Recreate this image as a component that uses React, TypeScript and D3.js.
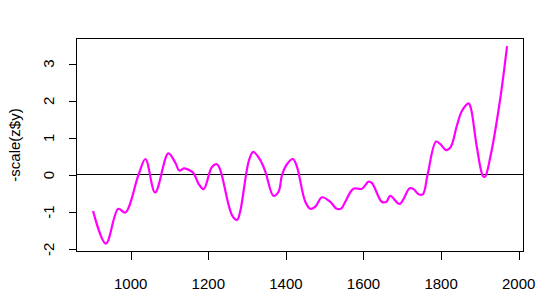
import React from "react";
import * as d3 from "d3";

const years = [903, 936, 968, 986, 1020, 1038, 1063, 1097, 1115, 1125, 1138, 1153, 1162, 1175, 1188, 1209, 1222, 1231, 1261, 1274, 1282, 1305, 1316, 1334, 1347, 1368, 1381, 1390, 1404, 1418, 1428, 1450, 1463, 1476, 1493, 1514, 1531, 1543, 1553, 1574, 1596, 1613, 1622, 1647, 1659, 1669, 1693, 1719, 1729, 1742, 1753, 1765, 1787, 1798, 1813, 1825, 1841, 1854, 1871, 1877, 1892, 1908, 1913, 1927, 1952, 1970];
const values = [-0.97, -1.85, -0.91, -1.01, 0.0, 0.43, -0.47, 0.58, 0.33, 0.12, 0.18, 0.12, 0.05, -0.24, -0.38, 0.21, 0.29, 0.13, -1.08, -1.21, -0.99, 0.40, 0.62, 0.40, 0.09, -0.56, -0.45, 0.0, 0.31, 0.43, 0.24, -0.72, -0.91, -0.85, -0.60, -0.72, -0.91, -0.90, -0.72, -0.37, -0.37, -0.18, -0.22, -0.72, -0.72, -0.56, -0.78, -0.36, -0.38, -0.52, -0.52, 0.0, 0.90, 0.83, 0.67, 0.76, 1.34, 1.73, 1.93, 1.79, 0.76, -0.03, -0.05, 0.49, 2.02, 3.47];
const xTicks = [1000, 1200, 1400, 1600, 1800, 2000];
const yTicks = [-2, -1, 0, 1, 2, 3];
const yLabel = "-scale(z$y)";

export default function App() {
  const W = 542, H = 308;
  const left = 76.5, right = 523.5, top = 38.5, bottom = 251.5;
  const x = d3.scaleLinear().domain([860.3, 2012.4]).range([left, right]);
  const y = d3.scaleLinear().domain([-2.06, 3.675]).range([bottom, top]);
  const pts: [number, number][] = years.map((yr, i) => [yr, values[i]]);
  const line = d3
    .line<[number, number]>()
    .x((d) => x(d[0]))
    .y((d) => y(d[1]))
    .curve(d3.curveCatmullRom.alpha(0.5));
  const font = "'Liberation Sans', Arial, sans-serif";
  const y0 = Math.floor(y(0)) + 0.5;
  return (
    <svg
      width={W}
      height={H}
      style={{ position: "absolute", left: 0, top: 0, background: "#fff" }}
    >
      <rect x={0} y={0} width={W} height={H} fill="#fff" />
      <line x1={left} x2={right} y1={y0} y2={y0} stroke="#000" strokeWidth={1} shapeRendering="crispEdges" />
      <path d={line(pts) || ""} fill="none" stroke="#FF00FF" strokeWidth={2.2} strokeLinejoin="round" />
      <rect x={left} y={top} width={right - left} height={bottom - top} fill="none" stroke="#000" strokeWidth={1} shapeRendering="crispEdges" />
      {xTicks.map((t) => (
        <g key={t}>
          <line x1={Math.round(x(t)) + 0.5} x2={Math.round(x(t)) + 0.5} y1={bottom} y2={bottom + 8} stroke="#000" shapeRendering="crispEdges" />
          <text x={x(t)} y={289} textAnchor="middle" fontFamily={font} fontSize={15} fill="#000">
            {t}
          </text>
        </g>
      ))}
      {yTicks.map((t) => (
        <g key={t}>
          <line x1={left - 8} x2={left} y1={Math.round(y(t)) + 0.5} y2={Math.round(y(t)) + 0.5} stroke="#000" shapeRendering="crispEdges" />
          <text
            transform={`translate(53.5,${y(t)}) rotate(-90)`}
            textAnchor="middle"
            fontFamily={font}
            fontSize={15}
            fill="#000"
          >
            {t}
          </text>
        </g>
      ))}
      <text
        transform={`translate(19.5,${(top + bottom) / 2}) rotate(-90)`}
        textAnchor="middle"
        fontFamily={font}
        fontSize={15}
        fill="#000"
      >
        {yLabel}
      </text>
    </svg>
  );
}
